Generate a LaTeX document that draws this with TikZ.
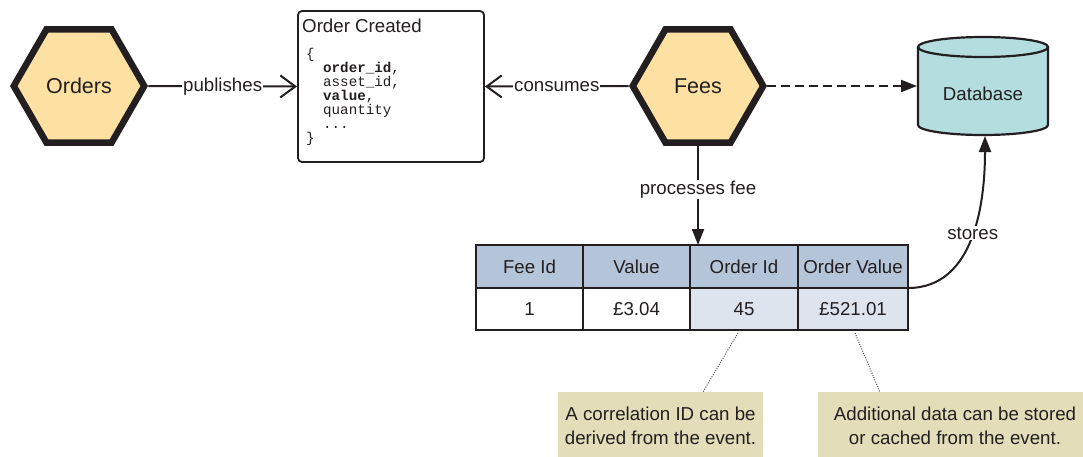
\documentclass[tikz,border=0pt]{standalone}
\usepackage{fontspec}
\setmainfont{Liberation Sans}
\setmonofont{Liberation Mono}
\usetikzlibrary{arrows.meta,shapes.geometric,calc}
\definecolor{hexfill}{HTML}{FDE1A2}
\definecolor{dbfill}{HTML}{B4DDDF}
\definecolor{hdrfill}{HTML}{B5C5D9}
\definecolor{hlfill}{HTML}{DDE4EE}
\definecolor{notefill}{HTML}{E3DDB9}
\definecolor{ink}{HTML}{231F20}
\newcommand{\lblfont}{\fontsize{18.7}{22}\selectfont}
\newcommand{\hexfont}{\fontsize{21.5}{24}\selectfont}
\newcommand{\codefont}{\ttfamily\fontsize{14.2}{14}\selectfont}
\begin{document}
\begin{tikzpicture}[x=1pt,y=-1pt,
  hexnode/.style={regular polygon, regular polygon sides=6, minimum size=130.5pt,
    draw=ink, line width=6.5pt, fill=hexfill, inner sep=0pt, outer sep=3.5pt,
    font=\hexfont, text=ink},
  conn/.style={draw=ink, line width=2pt},
  opentip/.style={-{Straight Barb[length=15pt,width=22pt,line width=2pt]}},
  filltip/.style={-{Triangle[length=16pt,width=12pt]}},
  lblbg/.style={fill=white, inner sep=1pt, font=\lblfont, text=ink},
  cell/.style={draw=ink, line width=1.3pt, inner sep=0pt, outer sep=0pt,
    minimum height=43pt, font=\lblfont, text=ink},
  note/.style={fill=notefill, inner sep=0pt, align=center,
    font=\fontsize{18.7}{24}\selectfont, text=ink, minimum height=68pt},
  codeline/.style={anchor=base west, inner sep=0pt, font=\codefont, text=ink},
  dotline/.style={draw=ink!80, line width=1pt, dash pattern=on 1pt off 1.4pt}
]
\useasboundingbox (0,0) rectangle (1083,456);
\clip (0,0) rectangle (1083,456);
\fill[white] (0,0) rectangle (1083,456);

% hexagons
\node[hexnode] (orders) at (79,86) {Orders};
\node[hexnode] (fees) at (698,86) {Fees};

% Order Created event box
\node[draw=ink, line width=1.8pt, rounded corners=4pt, minimum width=186pt,
  minimum height=151pt, inner sep=0pt, outer sep=1pt] (oc) at (391,86.5) {};
\node[anchor=base west, inner sep=0pt, font=\lblfont, text=ink] (title) at (302,32) {Order Created};
\node[codeline] (c1) at (306,58) {\{};
\node[codeline] (c2) at (323,72) {\textbf{order\_id},};
\node[codeline] (c3) at (323,86) {asset\_id,};
\node[codeline] (c4) at (323,100) {\textbf{value},};
\node[codeline] (c5) at (323,114) {quantity};
\node[codeline] (c6) at (323,128) {...};
\node[codeline] (c7) at (306,142) {\}};

% database cylinder
\fill[dbfill] (918,47) -- (918,125) arc[start angle=180, end angle=0, x radius=65, y radius=10]
  -- (1048,47) arc[start angle=0, end angle=-180, x radius=65, y radius=10] -- cycle;
\draw[ink, line width=2.2pt] (918,47) -- (918,125) arc[start angle=180, end angle=0, x radius=65, y radius=10]
  -- (1048,47);
\draw[ink, line width=2.2pt] (983,47) ellipse[x radius=65, y radius=10];
\node[inner sep=0pt, outer sep=1pt, minimum width=130pt, minimum height=98pt] (db) at (983,86) {};
\node[font=\lblfont, text=ink, inner sep=0pt] (dblabel) at (983,94) {Database};

% table
\node[cell, fill=hdrfill, minimum width=107pt] (h1) at (529.5,266.5) {Fee Id};
\node[cell, fill=hdrfill, minimum width=107pt] (h2) at (636.5,266.5) {Value};
\node[cell, fill=hdrfill, minimum width=108pt] (h3) at (744,266.5) {Order Id};
\node[cell, fill=hdrfill, minimum width=110pt] (h4) at (853,266.5) {Order Value};
\node[cell, fill=white, minimum width=107pt, minimum height=42pt] (r1) at (529.5,309) {1};
\node[cell, fill=white, minimum width=107pt, minimum height=42pt] (r2) at (636.5,309) {£3.04};
\node[cell, fill=hlfill, minimum width=108pt, minimum height=42pt] (r3) at (744,309) {45};
\node[cell, fill=hlfill, minimum width=110pt, minimum height=42pt] (r4) at (853,309) {£521.01};

% notes
\node[note, minimum width=205pt] (n1) at (660.5,426) {A correlation ID can be\\derived from the event.};
\node[note, minimum width=274pt] (n2) at (955,426) {Additional data can be stored\\or cached from the event.};

% connectors
\draw[conn, opentip] (orders.east) -- node[lblbg] {publishes} (oc.west);
\draw[conn, opentip] (fees.west) -- node[lblbg] {consumes} (oc.east);
\draw[conn, filltip, dash pattern=on 9pt off 5pt] (fees.east) -- (fees.east -| db.west);
\draw[conn, filltip] (fees.south) -- node[lblbg, pos=0.44] {processes fee} (fees.south |- h3.north);
\draw[conn, filltip] (r4.north east) to[out=0, in=-90] node[lblbg, pos=0.52] {stores} ([xshift=2pt]db.south);

\draw[dotline] ([xshift=-6pt, yshift=-3pt]r3.south) -- ($(n1.north west)!0.707!(n1.north east)$);
\draw[dotline] ([xshift=2pt, yshift=-3pt]r4.south) -- ($(n2.north west)!0.226!(n2.north east)$);
\end{tikzpicture}
\end{document}
